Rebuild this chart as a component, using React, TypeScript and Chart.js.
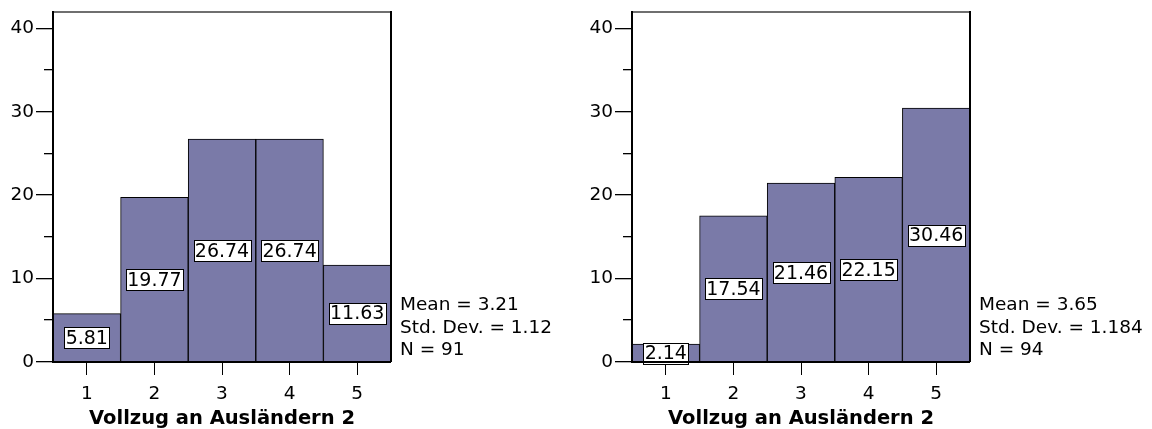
import React, { useEffect, useRef } from "react";
import { Chart, registerables } from "chart.js";

Chart.register(...registerables);

const categories = ["1", "2", "3", "4", "5"];
const leftValues = [5.81, 19.77, 26.74, 26.74, 11.63];
const rightValues = [2.14, 17.54, 21.46, 22.15, 30.46];
const leftStats = ["Mean = 3.21", "Std. Dev. = 1.12", "N = 91"];
const rightStats = ["Mean = 3.65", "Std. Dev. = 1.184", "N = 94"];
const axisTitle = "Vollzug an Ausländern 2";
const yMin = 0;
const yMax = 42;
const yStep = 5;
const yLabelStep = 10;

const FONT = '"DejaVu Sans", Arial, sans-serif';
const BAR_COLOR = "rgb(122,122,168)";

const histPlugin = {
  id: "histDecor",
  afterDatasetsDraw(chart: any) {
    const ctx = chart.ctx;
    const meta = chart.getDatasetMeta(0);
    const data = chart.data.datasets[0].data as number[];
    ctx.save();
    ctx.font = `19px ${FONT}`;
    ctx.textAlign = "center";
    ctx.textBaseline = "middle";
    meta.data.forEach((bar: any, i: number) => {
      const txt = data[i].toFixed(2);
      const cx = bar.x;
      const cy = (bar.y + bar.base) / 2;
      const w = Math.round(ctx.measureText(txt).width + 3);
      const h = 21;
      const x0 = Math.round(cx - w / 2) + 0.5;
      const y0 = Math.round(cy - h / 2) + 0.5;
      ctx.fillStyle = "#fff";
      ctx.fillRect(x0, y0, w, h);
      ctx.strokeStyle = "#000";
      ctx.lineWidth = 1;
      ctx.strokeRect(x0, y0, w, h);
      ctx.fillStyle = "#000";
      ctx.fillText(txt, cx, cy + 1);
    });
    ctx.restore();
  },
  afterDraw(chart: any, _args: any, opts: any) {
    const ctx = chart.ctx;
    const { left, right, top, bottom } = chart.chartArea;
    const yScale = chart.scales.y;
    ctx.save();
    // frame
    ctx.fillStyle = "#6f6f6f";
    ctx.fillRect(left, top - 1, right - left, 2);
    ctx.fillStyle = "#000";
    ctx.fillRect(right - 1, top - 1, 2, bottom - top + 1);
    ctx.fillRect(left - 1, top - 1, 2, bottom - top + 2);
    ctx.fillRect(left - 1, bottom - 1, right - left + 1, 2);
    // y ticks (major and minor)
    yScale.ticks.forEach((t: any) => {
      if (t.value % yStep !== 0) return;
      const p = Math.round(yScale.getPixelForValue(t.value));
      const major = t.value % yLabelStep === 0;
      const len = major ? 17 : 9;
      ctx.fillRect(left - len, p - 1, len, 1.3);
    });
    // stats text
    const stats: string[] = opts.stats || [];
    ctx.font = `18.5px ${FONT}`;
    ctx.textAlign = "left";
    ctx.textBaseline = "alphabetic";
    const offs = [52, 29, 7];
    stats.forEach((s, i) => {
      ctx.fillText(s, right + 9, bottom - offs[i]);
    });
    ctx.restore();
  },
};

function Hist({ values, stats, x, yAxisWidth, rightPad }: { values: number[]; stats: string[]; x: number; yAxisWidth: number; rightPad: number }) {
  const ref = useRef<HTMLCanvasElement>(null);
  useEffect(() => {
    const canvas = ref.current!;
    const chart = new Chart(canvas, {
      type: "bar",
      data: {
        labels: categories,
        datasets: [
          {
            data: values,
            backgroundColor: BAR_COLOR,
            borderColor: "#000",
            borderWidth: 1,
            barPercentage: 1,
            categoryPercentage: 1,
          },
        ],
      },
      options: {
        responsive: false,
        animation: false,
        devicePixelRatio: 1,
        layout: { padding: { left: 0, top: 12, right: rightPad, bottom: 0 } },
        plugins: {
          legend: { display: false },
          tooltip: { enabled: false },
          histDecor: { stats },
        } as any,
        scales: {
          x: {
            type: "category",
            offset: true,
            border: { display: false },
            grid: {
              display: true,
              drawOnChartArea: false,
              drawTicks: true,
              tickLength: 13,
              offset: false,
              color: "#000",
              lineWidth: 1,
            },
            ticks: {
              color: "#000",
              font: { family: FONT, size: 18.5 },
              padding: 8,
              maxRotation: 0,
              autoSkip: false,
            },
            title: {
              display: true,
              text: axisTitle,
              color: "#000",
              font: { family: FONT, size: 19.5, weight: "bold" },
              padding: { top: 0, bottom: -2 },
            },
            afterFit: (scale: any) => {
              scale.height = 67;
              scale.paddingLeft = 0;
              scale.paddingRight = 0;
            },
          },
          y: {
            min: yMin,
            max: yMax,
            border: { display: false },
            grid: { display: false, drawTicks: false },
            ticks: {
              stepSize: yStep,
              includeBounds: false,
              color: "#000",
              font: { family: FONT, size: 18.5 },
              padding: 19,
              autoSkip: false,
              callback: (v: any) => (Number(v) % yLabelStep === 0 ? String(v) : ""),
            },
            afterFit: (scale: any) => {
              scale.width = yAxisWidth;
              scale.paddingTop = 0;
              scale.paddingBottom = 0;
            },
          },
        },
      } as any,
      plugins: [histPlugin],
    });
    return () => chart.destroy();
  }, []);
  return (
    <canvas
      ref={ref}
      width={576}
      height={429}
      style={{ position: "absolute", left: x, top: 0, width: 576, height: 429 }}
    />
  );
}

export default function App() {
  return (
    <div style={{ position: "absolute", left: 0, top: 0, width: 1152, height: 429, background: "#fff", overflow: "hidden" }}>
      <Hist values={leftValues} stats={leftStats} x={0} yAxisWidth={53} rightPad={185} />
      <Hist values={rightValues} stats={rightStats} x={576} yAxisWidth={56} rightPad={182} />
    </div>
  );
}
